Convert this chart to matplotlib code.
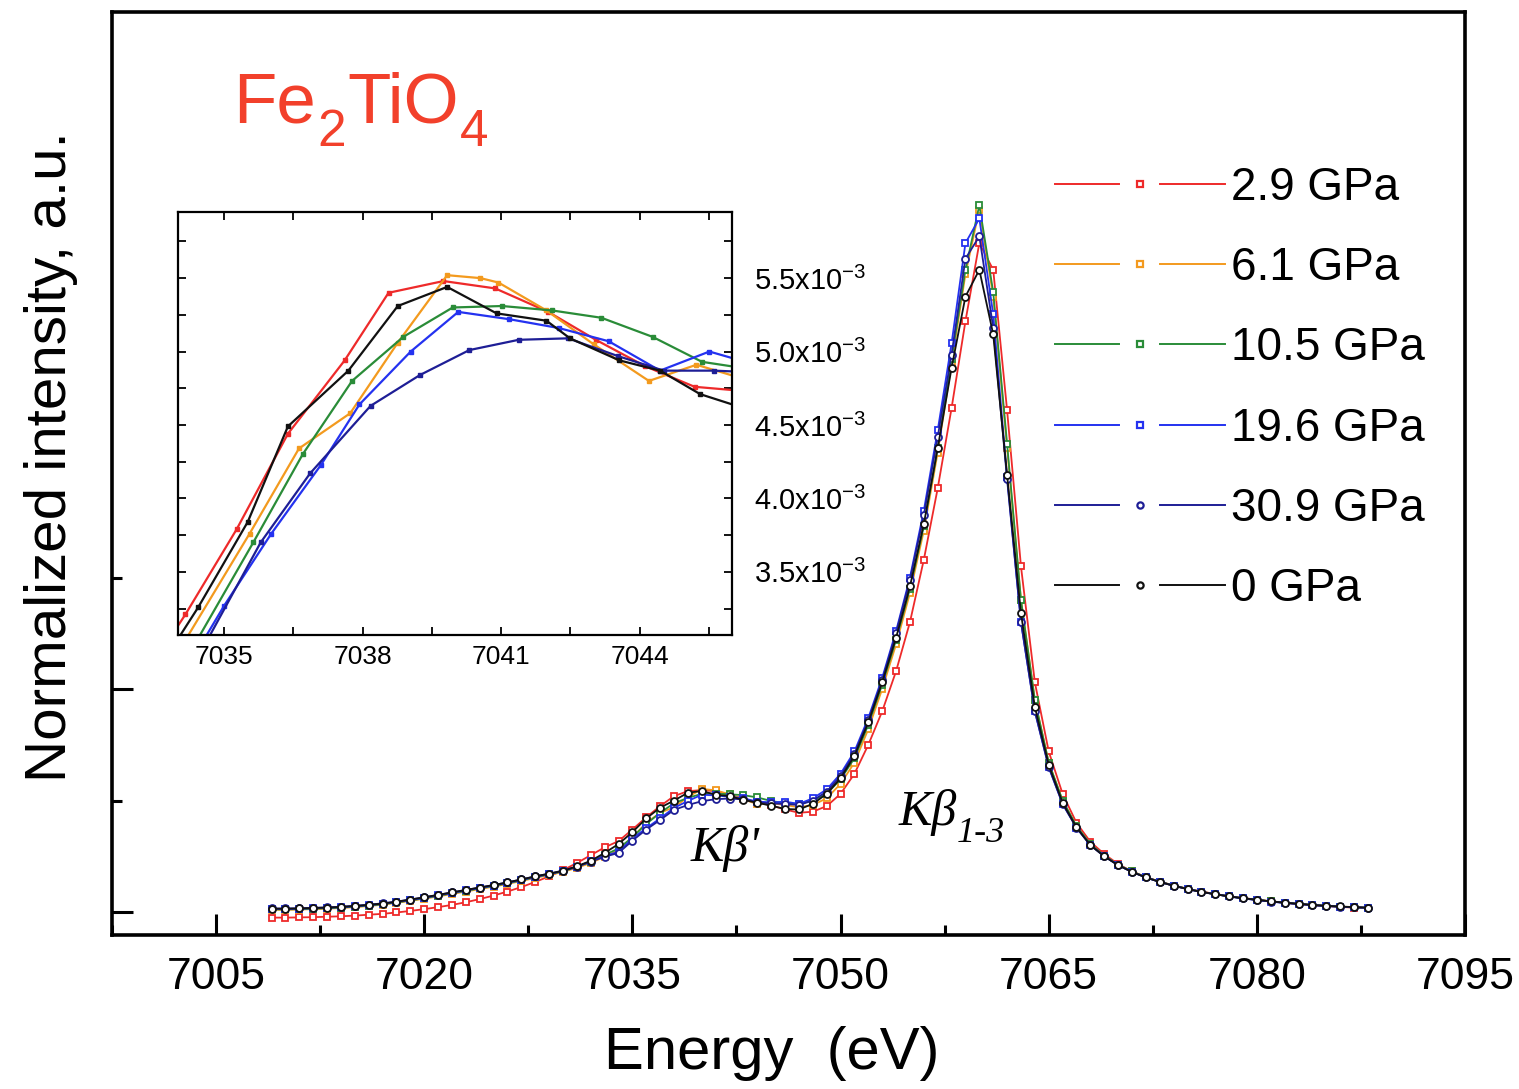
"""
Fe2TiO4 Kbeta emission spectra under pressure, with an inset on the Kbeta' region.
"""
import numpy as np
import matplotlib
matplotlib.use("Agg")
import matplotlib.pyplot as plt
from matplotlib.legend_handler import HandlerBase
from matplotlib.lines import Line2D
from matplotlib.ticker import MultipleLocator, FixedLocator, FuncFormatter

plt.rcParams["font.family"] = ["Liberation Sans", "DejaVu Sans"]
plt.rcParams["mathtext.fontset"] = "custom"
plt.rcParams["mathtext.rm"] = "Liberation Sans"
plt.rcParams["mathtext.it"] = "Liberation Sans:italic"
plt.rcParams["mathtext.bf"] = "Liberation Sans:bold"

# ---- data (intensity in units of 1e-3) ----
energy = [7009, 7010, 7011, 7012, 7013, 7014, 7015, 7016, 7017, 7018,
          7019, 7020, 7021, 7022, 7023, 7024, 7025, 7026, 7027, 7028,
          7029, 7030, 7031, 7032, 7033, 7034, 7035, 7036, 7037, 7038,
          7039, 7040, 7041, 7042, 7043, 7044, 7045, 7046, 7047, 7048,
          7049, 7050, 7051, 7052, 7053, 7054, 7055, 7056, 7057, 7058,
          7059, 7060, 7061, 7062, 7063, 7064, 7065, 7066, 7067, 7068,
          7069, 7070, 7071, 7072, 7073, 7074, 7075, 7076, 7077, 7078,
          7079, 7080, 7081, 7082, 7083, 7084, 7085, 7086, 7087, 7088]

p_2_9 = [-0.25, -0.25, -0.24, -0.23, -0.21, -0.19, -0.16, -0.12, -0.08, -0.02,
         0.05, 0.13, 0.22, 0.32, 0.44, 0.58, 0.74, 0.92, 1.12, 1.35,
         1.60, 1.88, 2.20, 2.55, 2.90, 3.18, 3.70, 4.25, 4.75, 5.20,
         5.42, 5.47, 5.42, 5.27, 5.09, 4.92, 4.78, 4.60, 4.45, 4.50,
         4.75, 5.30, 6.20, 7.50, 9.00, 10.8, 13.0, 15.8, 19.0, 22.6,
         26.5, 30.0, 28.8, 22.5, 15.5, 10.3, 7.20, 5.30, 4.00, 3.15,
         2.60, 2.15, 1.82, 1.57, 1.36, 1.19, 1.04, 0.92, 0.81, 0.71,
         0.63, 0.55, 0.48, 0.42, 0.36, 0.31, 0.27, 0.23, 0.20, 0.18]

p_6_1 = [0.10, 0.10, 0.11, 0.13, 0.15, 0.18, 0.22, 0.27, 0.33, 0.41,
         0.50, 0.60, 0.70, 0.81, 0.92, 1.03, 1.14, 1.26, 1.39, 1.53,
         1.66, 1.80, 1.98, 2.20, 2.48, 2.78, 3.35, 4.00, 4.45, 4.70,
         5.15, 5.52, 5.46, 5.28, 5.05, 4.84, 4.88, 4.80, 4.70, 4.80,
         5.10, 5.75, 6.70, 8.20, 10.0, 12.0, 14.3, 17.1, 20.6, 24.6,
         28.6, 31.5, 27.6, 20.8, 14.0, 9.50, 6.70, 5.00, 3.85, 3.05,
         2.52, 2.12, 1.82, 1.57, 1.36, 1.19, 1.04, 0.91, 0.80, 0.71,
         0.62, 0.55, 0.48, 0.42, 0.36, 0.31, 0.27, 0.24, 0.21, 0.19]

p_10_5 = [0.12, 0.12, 0.13, 0.15, 0.17, 0.20, 0.24, 0.29, 0.35, 0.43,
          0.52, 0.62, 0.73, 0.84, 0.95, 1.06, 1.17, 1.29, 1.42, 1.56,
          1.69, 1.83, 2.02, 2.26, 2.56, 2.85, 3.35, 3.95, 4.45, 4.88,
          5.12, 5.30, 5.31, 5.28, 5.24, 5.14, 4.98, 4.88, 4.85, 5.00,
          5.30, 5.95, 6.90, 8.40, 10.2, 12.2, 14.5, 17.3, 20.8, 24.8,
          28.8, 31.7, 27.8, 21.0, 14.0, 9.50, 6.70, 5.00, 3.85, 3.05,
          2.53, 2.12, 1.82, 1.56, 1.36, 1.19, 1.04, 0.91, 0.80, 0.71,
          0.62, 0.55, 0.48, 0.42, 0.37, 0.32, 0.28, 0.24, 0.21, 0.19]

p_19_6 = [0.14, 0.14, 0.15, 0.17, 0.19, 0.22, 0.26, 0.31, 0.37, 0.45,
          0.54, 0.64, 0.75, 0.86, 0.97, 1.08, 1.19, 1.31, 1.44, 1.58,
          1.70, 1.84, 2.03, 2.27, 2.52, 2.70, 3.30, 3.76, 4.20, 4.67,
          4.98, 5.26, 5.23, 5.17, 5.10, 4.95, 4.92, 4.95, 4.85, 5.10,
          5.50, 6.20, 7.20, 8.70, 10.5, 12.6, 15.0, 18.0, 21.6, 25.5,
          30.0, 31.1, 26.8, 19.5, 13.0, 9.00, 6.50, 4.85, 3.78, 3.00,
          2.50, 2.10, 1.80, 1.55, 1.35, 1.18, 1.03, 0.90, 0.80, 0.70,
          0.61, 0.54, 0.47, 0.41, 0.36, 0.31, 0.27, 0.24, 0.21, 0.19]

p_30_9 = [0.16, 0.16, 0.17, 0.19, 0.21, 0.24, 0.28, 0.33, 0.39, 0.47,
          0.56, 0.66, 0.77, 0.88, 0.99, 1.10, 1.21, 1.33, 1.46, 1.60,
          1.72, 1.86, 2.04, 2.26, 2.48, 2.65, 3.20, 3.70, 4.13, 4.58,
          4.80, 4.97, 5.06, 5.09, 5.05, 4.92, 4.87, 4.85, 4.80, 5.00,
          5.40, 6.10, 7.10, 8.60, 10.4, 12.5, 14.9, 17.8, 21.3, 25.0,
          29.3, 30.3, 26.2, 19.4, 13.0, 9.00, 6.50, 4.85, 3.78, 3.00,
          2.50, 2.10, 1.80, 1.55, 1.35, 1.18, 1.03, 0.90, 0.80, 0.70,
          0.61, 0.54, 0.47, 0.41, 0.36, 0.31, 0.27, 0.24, 0.21, 0.19]

p_0 = [0.15, 0.15, 0.16, 0.18, 0.20, 0.23, 0.27, 0.32, 0.38, 0.46,
       0.56, 0.66, 0.77, 0.88, 0.99, 1.10, 1.21, 1.33, 1.46, 1.60,
       1.72, 1.85, 2.05, 2.30, 2.65, 3.05, 3.58, 4.20, 4.68, 5.00,
       5.35, 5.43, 5.26, 5.20, 5.03, 4.90, 4.77, 4.62, 4.60, 4.85,
       5.30, 6.00, 7.00, 8.50, 10.3, 12.3, 14.6, 17.4, 20.8, 24.4,
       27.6, 28.8, 25.9, 19.6, 13.4, 9.20, 6.60, 4.90, 3.80, 3.00,
       2.50, 2.10, 1.80, 1.55, 1.35, 1.18, 1.03, 0.90, 0.80, 0.70,
       0.62, 0.55, 0.48, 0.42, 0.37, 0.32, 0.28, 0.25, 0.22, 0.20]

# inset (Kbeta' region), read separately
ins_e_2_9 = [7033.2, 7034.16, 7035.27, 7036.38, 7037.61, 7038.56, 7039.75, 7040.87, 7042.02, 7043.05, 7044.12, 7045.19, 7046.3]
ins_v_2_9 = [2.75, 3.21, 3.79, 4.44, 4.94, 5.40, 5.48, 5.43, 5.27, 5.08, 4.90, 4.76, 4.73]
ins_e_6_1 = [7033.9, 7035.55, 7036.62, 7037.73, 7038.76, 7039.83, 7040.55, 7040.94, 7041.98, 7043.0, 7044.2, 7045.23, 7046.4]
ins_v_6_1 = [2.90, 3.76, 4.34, 4.58, 5.06, 5.52, 5.50, 5.47, 5.28, 5.05, 4.80, 4.91, 4.80]
ins_e_10_5 = [7033.8, 7035.63, 7036.70, 7037.77, 7038.88, 7039.95, 7041.02, 7042.10, 7043.17, 7044.28, 7045.35, 7046.4]
ins_v_10_5 = [2.70, 3.70, 4.30, 4.80, 5.10, 5.30, 5.31, 5.28, 5.23, 5.10, 4.93, 4.88]
ins_e_19_6 = [7034.3, 7035.0, 7036.02, 7037.10, 7037.93, 7039.04, 7040.07, 7041.18, 7042.25, 7043.33, 7044.44, 7045.51, 7046.4]
ins_v_19_6 = [2.90, 3.27, 3.76, 4.23, 4.64, 5.00, 5.27, 5.22, 5.16, 5.07, 4.87, 5.00, 4.92]
ins_e_30_9 = [7034.4, 7035.79, 7036.86, 7038.17, 7039.24, 7040.31, 7041.38, 7042.45, 7043.52, 7044.52, 7045.6, 7046.4]
ins_v_30_9 = [2.90, 3.70, 4.17, 4.63, 4.84, 5.01, 5.08, 5.09, 4.97, 4.87, 4.87, 4.86]
ins_e_0 = [7033.3, 7034.44, 7035.51, 7036.38, 7037.69, 7038.76, 7039.83, 7040.90, 7041.98, 7042.49, 7043.56, 7044.44, 7045.31, 7046.4]
ins_v_0 = [2.70, 3.26, 3.84, 4.49, 4.87, 5.31, 5.44, 5.26, 5.21, 5.09, 4.94, 4.87, 4.71, 4.60]

labels = ["2.9 GPa", "6.1 GPa", "10.5 GPa", "19.6 GPa", "30.9 GPa", "0 GPa"]
colors = ["#ee2a2a", "#f39a1e", "#2a8c38", "#2432f0", "#1e1e96", "#111111"]
markers = ["s", "s", "s", "s", "o", "o"]
main_series = [p_2_9, p_6_1, p_10_5, p_19_6, p_30_9, p_0]
inset_series = [(ins_e_2_9, ins_v_2_9), (ins_e_6_1, ins_v_6_1), (ins_e_10_5, ins_v_10_5),
                (ins_e_19_6, ins_v_19_6), (ins_e_30_9, ins_v_30_9), (ins_e_0, ins_v_0)]


class LineGapMarker(HandlerBase):
    """Origin-style legend entry: line, gap, symbol, gap, line."""
    def create_artists(self, legend, orig_handle, xdescent, ydescent,
                       width, height, fontsize, trans):
        y = height / 2.0 - ydescent
        x0 = -xdescent
        x1 = x0 + width
        xm = (x0 + x1) / 2.0
        gap = width * 0.12
        c = orig_handle.get_color()
        l1 = Line2D([x0, xm - gap], [y, y], color=c, lw=1.4)
        l2 = Line2D([xm + gap, x1], [y, y], color=c, lw=1.4)
        m = Line2D([xm], [y], ls="none", marker=orig_handle.get_marker(),
                   ms=4.5, mfc="white", mec=c, mew=1.6)
        for a in (l1, l2, m):
            a.set_transform(trans)
        return [l1, l2, m]


fig = plt.figure(figsize=(15.19, 10.89), dpi=100)
ax = fig.add_axes([0.0737, 0.1414, 0.8908, 0.8476])

x = np.array(energy)
handles = []
for vals, lab, c, mk in zip(main_series, labels, colors, markers):
    ax.plot(x, vals, color=c, lw=1.3, marker=mk, ms=5, mfc="white", mec=c, mew=1.3)
    handles.append(Line2D([], [], color=c, marker=mk))

ax.set_xlim(6997.5, 7095)
ax.set_ylim(-1.03, 40.36)
ax.xaxis.set_major_locator(MultipleLocator(15))
ax.xaxis.set_minor_locator(MultipleLocator(7.5))
ax.yaxis.set_major_locator(FixedLocator([0, 10]))
ax.yaxis.set_minor_locator(FixedLocator([5, 15]))
ax.tick_params(which="both", direction="in", top=False, right=False, width=2.2)
ax.tick_params(which="major", length=15)
ax.tick_params(which="minor", length=7.5)
ax.tick_params(axis="x", labelsize=32, pad=16)
ax.tick_params(axis="y", labelleft=False)
for sp in ax.spines.values():
    sp.set_linewidth(2.6)

ax.set_xlabel("Energy  (eV)", fontsize=43)
ax.xaxis.set_label_coords(0.4878, -0.0985)
ax.set_ylabel("Normalized intensity, a.u.", fontsize=42)
ax.yaxis.set_label_coords(-0.0251, 0.518)

ax.text(7039.2, 2.3, "K\u03b2'", fontsize=36, family="Liberation Serif", style="italic",
        va="baseline", ha="left")
kb = ax.text(7054.2, 3.9, "K\u03b2", fontsize=36, family="Liberation Serif", style="italic",
             va="baseline", ha="left")
ax.annotate("1-3", xy=(1, 0), xycoords=kb, xytext=(0, -4), textcoords="offset points",
            fontsize=26, family="Liberation Serif", style="italic", va="baseline", ha="left")

ax.legend(handles, labels, handler_map={Line2D: LineGapMarker()},
          loc="upper left", bbox_to_anchor=(0.6945, 0.8476), bbox_transform=fig.transFigure,
          frameon=False, fontsize=33, handlelength=3.7, handletextpad=0.15,
          labelspacing=0.79, borderpad=0, borderaxespad=0)

# formula label built from pieces so the subscripts can be sized like the original
red = "#f2402b"
t_fe = fig.text(0.1534, 0.874, "Fe", fontsize=51, color=red, va="bottom", ha="left")
t_2 = fig.add_artist(plt.Annotation("2", xy=(1, 0), xycoords=t_fe, xytext=(1, -14),
                                    textcoords="offset points", fontsize=37, color=red,
                                    va="bottom", ha="left", annotation_clip=False))
t_tio = fig.add_artist(plt.Annotation("TiO", xy=(1, 0), xycoords=(t_2, t_fe), xytext=(1, 0),
                                      textcoords="offset points", fontsize=51, color=red,
                                      va="bottom", ha="left", annotation_clip=False))
fig.add_artist(plt.Annotation("4", xy=(1, 0), xycoords=t_tio, xytext=(1, -14),
                              textcoords="offset points", fontsize=37, color=red,
                              va="bottom", ha="left", annotation_clip=False))

# ---- inset ----
axi = fig.add_axes([0.1172, 0.4169, 0.3647, 0.3884])
for (ie, iv), c in zip(inset_series, colors):
    axi.plot(ie, iv, color=c, lw=1.6, marker="s", ms=3, mfc=c, mec=c)
axi.set_xlim(7034, 7046)
axi.set_ylim(3.07, 5.95)
axi.xaxis.set_major_locator(MultipleLocator(3))
axi.xaxis.set_minor_locator(MultipleLocator(1.5))
axi.yaxis.set_major_locator(MultipleLocator(0.5))
axi.yaxis.set_minor_locator(MultipleLocator(0.25))
axi.yaxis.set_major_formatter(FuncFormatter(lambda v, p: f"{v:.1f}x10$^{{-3}}$"))
axi.tick_params(which="both", direction="in", top=True, right=True, left=True, bottom=True,
                length=6, width=1.3, labelleft=False, labelright=True)
axi.tick_params(axis="y", pad=16, labelsize=21)
axi.tick_params(axis="x", pad=7, labelsize=19)
for sp in axi.spines.values():
    sp.set_linewidth(1.6)

fig.savefig("out.png", dpi=100)
